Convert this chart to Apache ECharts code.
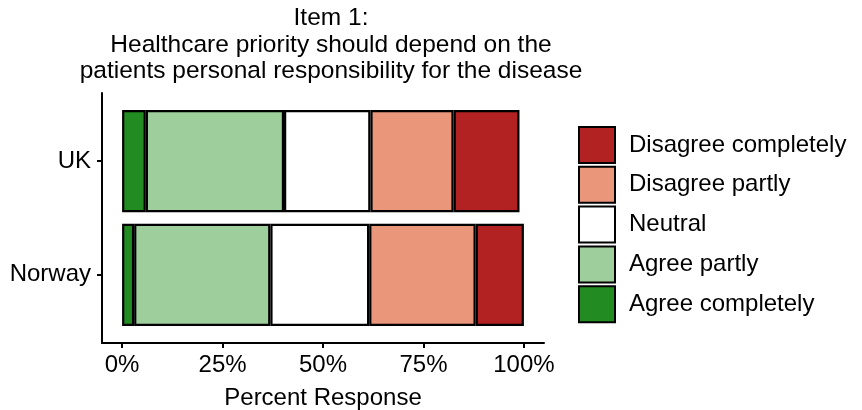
<!DOCTYPE html>
<html>
<head>
<meta charset="utf-8">
<script src="https://cdn.jsdelivr.net/npm/echarts@6/dist/echarts.min.js"></script>
<style>html,body{margin:0;padding:0;background:#fff}#c{width:862px;height:410px}</style>
</head>
<body>
<div id="c"></div>
<script>
const categories = ['Norway', 'UK'];
const levels = ['Agree completely', 'Agree partly', 'Neutral', 'Disagree partly', 'Disagree completely'];
const agreeCompletely = [3.0, 5.9];
const agreePartly = [33.9, 34.4];
const neutral = [24.6, 21.5];
const disagreePartly = [26.5, 20.7];
const disagreeCompletely = [12.0, 16.4];
const xTicks = [0, 25, 50, 75, 100];
const titleText = 'Item 1:\nHealthcare priority should depend on the\npatients personal responsibility for the disease';
const xTitle = 'Percent Response';

const colors = ['#228B22', '#9DCE9B', '#FFFFFF', '#E9967A', '#B22222'];
const seriesValues = [agreeCompletely, agreePartly, neutral, disagreePartly, disagreeCompletely];
const FONT = 'Liberation Sans, Arial, sans-serif';

const chart = echarts.init(document.getElementById('c'), null, {renderer: 'canvas'});
chart.setOption({
  animation: false,
  backgroundColor: '#fff',
  textStyle: {fontFamily: FONT},
  title: {
    text: titleText,
    left: 331,
    top: 5,
    padding: 0,
    textAlign: 'center',
    textStyle: {fontFamily: FONT, fontSize: 24.5, fontWeight: 'normal', color: '#000', lineHeight: 26.5}
  },
  legend: {
    data: levels.slice().reverse(),
    orient: 'vertical',
    left: 578,
    top: 126,
    padding: 0,
    itemWidth: 36,
    itemHeight: 36,
    itemGap: 1.8,
    icon: 'rect',
    selectedMode: false,
    textStyle: {fontFamily: FONT, fontSize: 24, color: '#000', padding: [0, 0, 0, 9]}
  },
  grid: [
    {left: 102, right: 318, top: 104.4, bottom: 78.4, outerBoundsMode: 'none', containLabel: false},
    {left: 102, right: 318, top: 93, bottom: 67, outerBoundsMode: 'none', containLabel: false}
  ],
  xAxis: [
    {type: 'value', gridIndex: 0, min: -5, max: 105, show: false},
    {
      type: 'value', gridIndex: 1, min: -5, max: 105,
      axisLine: {show: true, onZero: false, lineStyle: {color: '#000', width: 2}},
      axisTick: {show: true, length: 5, lineStyle: {color: '#000', width: 2}, customValues: xTicks},
      axisLabel: {fontFamily: FONT, fontSize: 24, color: '#000', margin: 10, customValues: xTicks, formatter: v => v + '%'},
      splitLine: {show: false},
      name: xTitle,
      nameLocation: 'middle',
      nameGap: 43,
      nameTextStyle: {fontFamily: FONT, fontSize: 24, color: '#000'}
    }
  ],
  yAxis: [
    {
      type: 'category', gridIndex: 0, data: categories,
      axisLine: {show: false, onZero: false},
      axisTick: {show: true, alignWithLabel: true, length: 5, lineStyle: {color: '#000', width: 2}},
      axisLabel: {fontFamily: FONT, fontSize: 24, color: '#000', margin: 11}
    },
    {
      type: 'value', gridIndex: 1, min: 0, max: 1,
      axisLine: {show: true, onZero: false, lineStyle: {color: '#000', width: 2}},
      axisTick: {show: false}, axisLabel: {show: false}, splitLine: {show: false}
    }
  ],
  series: levels.map((name, i) => ({
    name: name,
    type: 'bar',
    stack: 'total',
    xAxisIndex: 0,
    yAxisIndex: 0,
    barCategoryGap: '10%',
    data: seriesValues[i],
    itemStyle: {color: colors[i], borderColor: '#000', borderWidth: 2.2}
  }))
});
</script>
</body>
</html>
